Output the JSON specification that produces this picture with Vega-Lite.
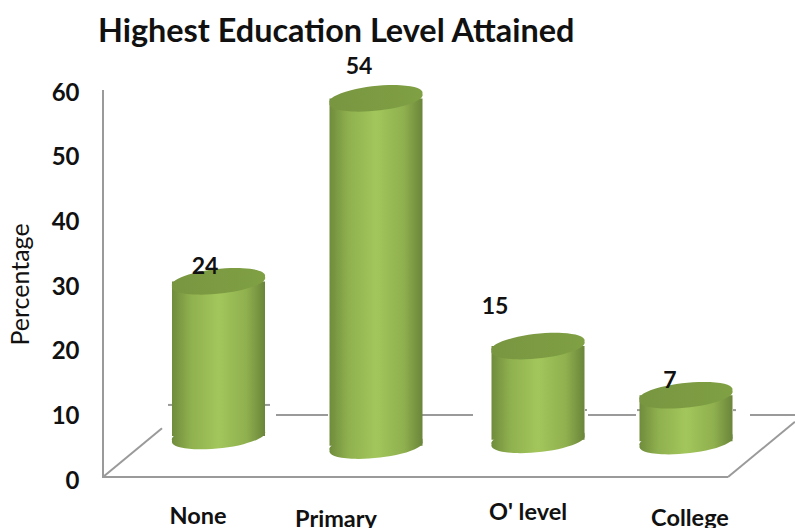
{
"$schema":"https://vega.github.io/schema/vega-lite/v6.json",
"width":692,"height":388,
"padding":{"left":103,"top":90,"right":0,"bottom":50},
"autosize":{"type":"none"},
"background":"white",
"config":{"view":{"stroke":null},"font":"Lato"},
"title":{"text":"Highest Education Level Attained","anchor":"start","frame":"group","font":"Lato","fontSize":32.4,"fontWeight":"bold","color":"#111111","offset":7,"dx":-5},
"datasets":{
"bars":[
{"category":"None","center":218.5,"top":30.4,"base":6.5,"value":24,"valueX":205,"valueY":32.6,"catX":198,"catY":-6.0},
{"category":"Primary","center":376,"top":58.7,"base":5.0,"value":54,"valueX":359,"valueY":63.6,"catX":336,"catY":-6.5},
{"category":"O' level","center":538,"top":20.4,"base":5.9,"value":15,"valueX":495,"valueY":26.4,"catX":528,"catY":-5.4},
{"category":"College","center":686,"top":12.8,"base":5.7,"value":7,"valueX":670,"valueY":15.0,"catX":690,"catY":-6.3}
],
"floor":[
{"x":103,"x2":728,"y":0.15,"y2":0.15},
{"x":103,"x2":162,"y":0.15,"y2":7.7},
{"x":728,"x2":795,"y":0.15,"y2":8.7},
{"x":168,"x2":172,"y":11.3,"y2":11.3},
{"x":265,"x2":270,"y":11.3,"y2":11.3},
{"x":276,"x2":328,"y":9.75,"y2":9.75},
{"x":422,"x2":473,"y":9.75,"y2":9.75},
{"x":585,"x2":587,"y":10.5,"y2":10.5},
{"x":588,"x2":636,"y":9.75,"y2":9.75},
{"x":637,"x2":640,"y":10.5,"y2":10.5},
{"x":733,"x2":736,"y":10.5,"y2":10.5},
{"x":750,"x2":795,"y":9.75,"y2":9.75},
{"x":103,"x2":103,"y":0,"y2":60}
]
},
"layer":[
{"data":{"name":"floor"},"mark":{"type":"rule","color":"#9a9a9a","strokeWidth":2},
 "encoding":{
  "x":{"field":"x","type":"quantitative","scale":{"domain":[103,795],"nice":false,"zero":false,"padding":0},"axis":null},
  "x2":{"field":"x2"},
  "y":{"field":"y","type":"quantitative","scale":{"domain":[0,60],"nice":false,"padding":0},
   "axis":{"values":[0,10,20,30,40,50,60],"domain":false,"ticks":false,"grid":false,"labelPadding":24,"labelOffset":3,"labelFontSize":24,"labelFontWeight":"bold","labelColor":"#111111","labelFont":"Lato","title":"Percentage","titleFont":"Lato","titleFontSize":25,"titleFontWeight":"normal","titleColor":"#111111","titleX":-70,"titleY":194}},
  "y2":{"field":"y2"}}},
{"data":{"name":"bars"},"mark":{"type":"point","filled":true,"opacity":1,"size":8800,"shape":"M-0.99,0.1 A1,0.24 -6 1 1 0.99,-0.1 A1,0.24 -6 1 1 -0.99,0.1 Z","color":{"gradient":"linear","x1":0,"x2":1,"y1":0,"y2":0,"stops":[{"offset":0,"color":"#6f8c3c"},{"offset":0.2,"color":"#8fb04e"},{"offset":0.5,"color":"#a3c65c"},{"offset":0.8,"color":"#8fb04e"},{"offset":1,"color":"#6a853a"}]}},
 "encoding":{"x":{"field":"center","type":"quantitative"},"y":{"field":"base","type":"quantitative"}}},
{"data":{"name":"bars"},"mark":{"type":"bar","size":93,"color":{"gradient":"linear","x1":0,"x2":1,"y1":0,"y2":0,"stops":[{"offset":0,"color":"#6f8c3c"},{"offset":0.2,"color":"#8fb04e"},{"offset":0.5,"color":"#a3c65c"},{"offset":0.8,"color":"#8fb04e"},{"offset":1,"color":"#6a853a"}]}},
 "encoding":{"x":{"field":"center","type":"quantitative"},"y":{"field":"top","type":"quantitative"},"y2":{"field":"base"}}},
{"data":{"name":"bars"},"mark":{"type":"point","filled":true,"opacity":1,"size":8800,"shape":"M-0.99,0.1 A1,0.24 -6 1 1 0.99,-0.1 A1,0.24 -6 1 1 -0.99,0.1 Z","color":{"gradient":"linear","x1":0,"x2":1,"y1":0,"y2":0,"stops":[{"offset":0,"color":"#789640"},{"offset":1,"color":"#80a044"}]}},
 "encoding":{"x":{"field":"center","type":"quantitative"},"y":{"field":"top","type":"quantitative"}}},
{"data":{"name":"bars"},"mark":{"type":"text","font":"Lato","fontSize":23,"fontWeight":"bold","color":"#111111","baseline":"middle","align":"center"},
 "encoding":{"x":{"field":"valueX","type":"quantitative"},"y":{"field":"valueY","type":"quantitative"},"text":{"field":"value","type":"quantitative"}}},
{"data":{"name":"bars"},"mark":{"type":"text","font":"Lato","fontSize":23.5,"fontWeight":"bold","color":"#111111","baseline":"middle","align":"center"},
 "encoding":{"x":{"field":"catX","type":"quantitative"},"y":{"field":"catY","type":"quantitative"},"text":{"field":"category","type":"nominal"}}}
]
}
